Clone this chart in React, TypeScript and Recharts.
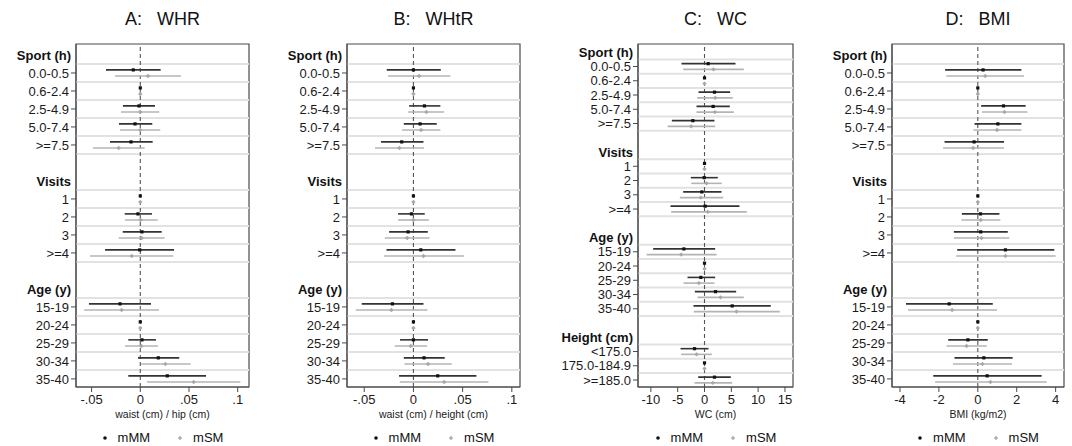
import React from "react";
import {
  ScatterChart,
  Scatter,
  XAxis,
  YAxis,
  ErrorBar,
  ReferenceLine,
  ReferenceArea,
} from "recharts";

// ---------- categories ----------
const sportLabels = ["0.0-0.5", "0.6-2.4", "2.5-4.9", "5.0-7.4", ">=7.5"];
const visitLabels = ["1", "2", "3", ">=4"];
const ageLabels = ["15-19", "20-24", "25-29", "30-34", "35-40"];
const heightLabels = ["<175.0", "175.0-184.9", ">=185.0"];

// ---------- series values: [estimate, lower, upper] per category row ----------
// A: WHR
const whrMM: number[][] = [
  [-0.0072, -0.0352, 0.0209], [0, 0, 0], [-0.0013, -0.0178, 0.0151], [-0.0054, -0.0219, 0.0123], [-0.0095, -0.0311, 0.0127],
  [0, 0, 0], [-0.0024, -0.016, 0.012], [0.0017, -0.018, 0.022], [-0.0006, -0.0362, 0.0346],
  [-0.0208, -0.0527, 0.011], [0, 0, 0], [0.0017, -0.0123, 0.0161], [0.0185, -0.0024, 0.04], [0.0277, -0.0123, 0.0675],
];
const whrSM: number[][] = [
  [0.0079, -0.026, 0.0418], [0, 0, 0], [0.0, -0.0198, 0.0195], [0.0, -0.0208, 0.0205], [-0.0222, -0.0486, 0.0045],
  [0, 0, 0], [0.0004, -0.0157, 0.0179], [0.0014, -0.0222, 0.025], [-0.0088, -0.0516, 0.0339],
  [-0.0191, -0.0575, 0.0192], [0, 0, 0], [0.001, -0.0157, 0.0182], [0.0257, 0.001, 0.0517], [0.0548, 0.0069, 0.1027],
];
// B: WHtR
const whtrMM: number[][] = [
  [0.0, -0.0271, 0.0278], [0, 0, 0], [0.0112, -0.0044, 0.0274], [0.0068, -0.0098, 0.0237], [-0.0119, -0.0329, 0.0102],
  [0, 0, 0], [-0.002, -0.0156, 0.0115], [-0.0054, -0.0247, 0.0146], [0.0075, -0.0274, 0.0427],
  [-0.0213, -0.0525, 0.0102], [0, 0, 0], [0.0, -0.0136, 0.0149], [0.0108, -0.0098, 0.0318], [0.0247, -0.0146, 0.064],
];
const whtrSM: number[][] = [
  [0.0058, -0.0257, 0.0376], [0, 0, 0], [0.0132, -0.0054, 0.0312], [0.0078, -0.0115, 0.0274], [-0.0142, -0.039, 0.0108],
  [0, 0, 0], [0.0, -0.0156, 0.0156], [-0.0064, -0.0291, 0.0163], [0.0102, -0.0301, 0.0512],
  [-0.0224, -0.0586, 0.0142], [0, 0, 0], [-0.0027, -0.019, 0.0139], [0.0149, -0.0091, 0.039], [0.0312, -0.0139, 0.0762],
];
// C: WC
const wcMM: number[][] = [
  [0.68, -4.29, 5.78], [0, 0, 0], [1.86, -1.12, 4.78], [1.61, -1.49, 4.72], [-2.17, -6.09, 1.86],
  [0, 0, 0], [-0.06, -2.55, 2.48], [-0.5, -3.98, 3.17], [0.12, -6.34, 6.52],
  [-3.85, -9.57, 1.99], [0, 0, 0], [-0.68, -3.17, 1.99], [2.05, -1.8, 5.9], [5.16, -2.05, 12.36],
  [-1.86, -4.47, 0.75], [0, 0, 0], [1.86, -1.18, 4.91],
];
const wcSM: number[][] = [
  [1.68, -3.98, 7.33], [0, 0, 0], [1.99, -1.37, 5.28], [1.93, -1.49, 5.47], [-2.48, -6.89, 1.99],
  [0, 0, 0], [0.37, -2.48, 3.23], [-0.68, -4.6, 3.48], [0.62, -6.21, 7.89],
  [-4.35, -10.81, 2.24], [0, 0, 0], [-1.06, -3.91, 1.86], [2.98, -1.3, 7.33], [5.96, -1.99, 14.04],
  [-1.49, -4.35, 1.37], [0, 0, 0], [1.55, -1.86, 5.16],
];
// D: BMI
const bmiMM: number[][] = [
  [0.27, -1.68, 2.24], [0, 0, 0], [1.32, 0.17, 2.46], [1.03, -0.17, 2.24], [-0.19, -1.71, 1.35],
  [0, 0, 0], [0.14, -0.82, 1.11], [0.15, -1.23, 1.54], [1.42, -1.06, 3.93],
  [-1.47, -3.69, 0.77], [0, 0, 0], [-0.51, -1.52, 0.51], [0.31, -1.2, 1.79], [0.48, -2.29, 3.28],
];
const bmiSM: number[][] = [
  [0.38, -1.62, 2.38], [0, 0, 0], [1.37, 0.21, 2.55], [0.99, -0.22, 2.24], [-0.24, -1.78, 1.35],
  [0, 0, 0], [0.15, -0.84, 1.16], [0.19, -1.23, 1.62], [1.42, -1.11, 4.0],
  [-1.32, -3.59, 0.99], [0, 0, 0], [-0.58, -1.61, 0.46], [0.24, -1.28, 1.76], [0.65, -2.19, 3.54],
];

// ---------- tick labels ----------
const ticksProp = [-0.05, 0, 0.05, 0.1];
const ticksWC = [-10, -5, 0, 5, 10, 15];
const ticksBMI = [-4, -2, 0, 2, 4];
const fmtProp = (v: number) => (v === 0 ? "0" : v.toString().replace("0.", "."));
const fmtNum = (v: number) => String(v);

type Group = { title: string; items: string[] };
type Row = { kind: "header" | "item" | "blank"; label: string };

const baseGroups: Group[] = [
  { title: "Sport (h)", items: sportLabels },
  { title: "Visits", items: visitLabels },
  { title: "Age (y)", items: ageLabels },
];
const wcGroups: Group[] = [...baseGroups, { title: "Height (cm)", items: heightLabels }];

function buildRows(groups: Group[]): Row[] {
  const rows: Row[] = [];
  groups.forEach((g, gi) => {
    if (gi > 0) rows.push({ kind: "blank", label: "" });
    rows.push({ kind: "header", label: g.title });
    g.items.forEach((it) => rows.push({ kind: "item", label: it }));
  });
  return rows;
}

function buildSeries(rows: Row[], vals: number[][], shift: number) {
  const out: { x: number; y: number; err: number[] }[] = [];
  let k = 0;
  rows.forEach((r, i) => {
    if (r.kind !== "item") return;
    const [est, lo, hi] = vals[k++];
    out.push({ x: est, y: i + shift, err: [est - lo, hi - est] });
  });
  return out;
}

type Panel = {
  title: string;
  xLabel: string;
  groups: Group[];
  mm: number[][];
  sm: number[][];
  domain: [number, number];
  ticks: number[];
  fmt: (v: number) => string;
  left: number;
  yWidth: number;
  rightM: number;
  shift: number;
  pad: [number, number];
};

const panels: Panel[] = [
  { title: "A:   WHR", xLabel: "waist (cm) / hip (cm)", groups: baseGroups, mm: whrMM, sm: whrSM, domain: [-0.066, 0.1116], ticks: ticksProp, fmt: fmtProp, left: 0, yWidth: 76, rightM: 19, shift: 0.17, pad: [0.61, 0.45] },
  { title: "B:   WHtR", xLabel: "waist (cm) / height (cm)", groups: baseGroups, mm: whtrMM, sm: whtrSM, domain: [-0.0675, 0.1083], ticks: ticksProp, fmt: fmtProp, left: 268, yWidth: 79, rightM: 16, shift: 0.17, pad: [0.61, 0.45] },
  { title: "C:   WC", xLabel: "WC (cm)", groups: wcGroups, mm: wcMM, sm: wcSM, domain: [-12.4, 16.5], ticks: ticksWC, fmt: fmtNum, left: 536, yWidth: 102, rightM: 11, shift: 0.2, pad: [0.58, 0.49] },
  { title: "D:   BMI", xLabel: "BMI (kg/m2)", groups: baseGroups, mm: bmiMM, sm: bmiSM, domain: [-4.41, 4.43], ticks: ticksBMI, fmt: fmtNum, left: 804, yWidth: 88, rightM: 8, shift: 0.17, pad: [0.61, 0.45] },
];

const W = 268;
const H = 446;
const TOP = 44;
const XAXIS_H = 40;
const BOTTOM = H - 387 - XAXIS_H;
const FONT = "'Liberation Sans', Arial, Helvetica, sans-serif";
const AXIS = "#4a4a4a";

const BlackDot = (p: any) => <rect x={p.cx - 1.6} y={p.cy - 1.6} width={3.2} height={3.2} fill="#111" />;
const GrayMark = (p: any) => (
  <path d={`M${p.cx - 2.2},${p.cy} L${p.cx},${p.cy - 2.2} L${p.cx + 2.2},${p.cy} L${p.cx},${p.cy + 2.2} Z`} fill="#a8a8a8" />
);

function PanelChart({ p }: { p: Panel }) {
  const rows = buildRows(p.groups);
  const n = rows.length;
  const yDomain: [number, number] = [-p.pad[0], n - 1 + p.pad[1]];
  const tickIdx = rows.map((r, i) => (r.kind === "blank" ? -1 : i)).filter((i) => i >= 0);
  const gridIdx = rows
    .map((r, i) => (r.kind !== "blank" && i < n - 1 ? i : -1))
    .filter((i) => i >= 0);
  const mmData = buildSeries(rows, p.mm, -p.shift);
  const smData = buildSeries(rows, p.sm, p.shift);
  const plotW = W - p.yWidth - p.rightM;

  const YTick = (props: any) => {
    const { x, y, payload } = props;
    const r = rows[Math.round(payload.value)];
    if (!r || r.kind === "blank") return <g />;
    if (r.kind === "header") {
      return (
        <text x={x + 2} y={y} dy="0.355em" textAnchor="end" fontWeight="bold" fontSize={13} fill="#111">
          {r.label}
        </text>
      );
    }
    return (
      <g>
        <line x1={x + 2} x2={x + 7} y1={y} y2={y} stroke={AXIS} strokeWidth={1} />
        <text x={x} y={y} dy="0.355em" textAnchor="end" fontSize={13} fill="#1a1a1a">
          {r.label}
        </text>
      </g>
    );
  };

  return (
    <div style={{ position: "absolute", left: p.left, top: 0, width: W, height: H }}>
      <div
        style={{
          position: "absolute",
          left: p.yWidth,
          top: 9,
          width: plotW,
          textAlign: "center",
          fontSize: 18,
          lineHeight: "20px",
          whiteSpace: "pre",
          color: "#111",
        }}
      >
        {p.title}
      </div>
      <ScatterChart width={W} height={H} margin={{ top: TOP, right: p.rightM, bottom: BOTTOM, left: 0 }}>
        <XAxis
          type="number"
          dataKey="x"
          domain={p.domain}
          allowDataOverflow
          ticks={p.ticks}
          interval={0}
          tickFormatter={p.fmt}
          height={XAXIS_H}
          tickSize={5}
          tickMargin={3}
          stroke={AXIS}
          tick={{ fontSize: 13, fill: "#1a1a1a" }}
          label={{ value: p.xLabel, position: "insideBottom", offset: 9, fontSize: 10.5, fill: "#1a1a1a" }}
        />
        <YAxis
          type="number"
          dataKey="y"
          domain={yDomain}
          allowDataOverflow
          reversed
          ticks={tickIdx}
          interval={0}
          width={p.yWidth}
          tickSize={5}
          tickMargin={2}
          tickLine={false}
          stroke={AXIS}
          tick={YTick}
        />
        {gridIdx.map((i) => (
          <ReferenceLine key={"g" + i} y={i + 0.5} stroke="#e2e2e2" strokeWidth={2} />
        ))}
        <ReferenceArea
          x1={p.domain[0]}
          x2={p.domain[1]}
          y1={yDomain[0]}
          y2={yDomain[1]}
          fill="none"
          fillOpacity={0}
          stroke={AXIS}
          strokeWidth={1.2}
        />
        <ReferenceLine x={0} stroke="#555" strokeDasharray="4 3" strokeWidth={1.1} />
        <Scatter data={smData} isAnimationActive={false} shape={GrayMark}>
          <ErrorBar dataKey="err" direction="x" width={0} stroke="#b4b4b4" strokeWidth={1.6} isAnimationActive={false} />
        </Scatter>
        <Scatter data={mmData} isAnimationActive={false} shape={BlackDot}>
          <ErrorBar dataKey="err" direction="x" width={0} stroke="#333" strokeWidth={1.6} isAnimationActive={false} />
        </Scatter>
      </ScatterChart>
      <div
        style={{
          position: "absolute",
          left: p.yWidth,
          top: 430,
          width: plotW,
          display: "flex",
          justifyContent: "center",
          alignItems: "center",
          fontSize: 13,
          lineHeight: "16px",
          color: "#111",
        }}
      >
        <svg width={6} height={6} style={{ marginRight: 10 }}>
          <circle cx={3} cy={3} r={1.8} fill="#111" />
        </svg>
        <span style={{ marginRight: 27 }}>mMM</span>
        <svg width={6} height={6} style={{ marginRight: 10 }}>
          <path d="M0.8,3 L3,0.8 L5.2,3 L3,5.2 Z" fill="#b0b0b0" />
        </svg>
        <span>mSM</span>
      </div>
    </div>
  );
}

export default function App() {
  return (
    <div
      style={{
        position: "absolute",
        left: 0,
        top: 0,
        width: 1072,
        height: 446,
        background: "#fff",
        fontFamily: FONT,
      }}
    >
      {panels.map((p) => (
        <PanelChart key={p.title} p={p} />
      ))}
    </div>
  );
}
